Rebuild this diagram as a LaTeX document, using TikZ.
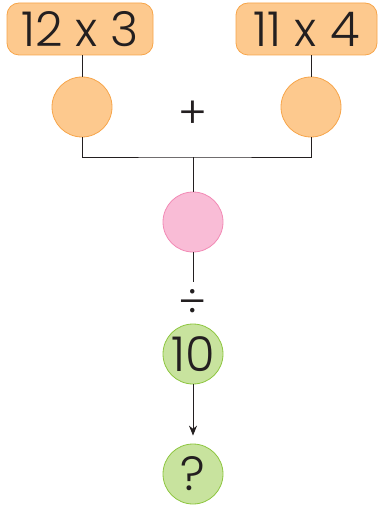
\documentclass[tikz,border=0pt]{standalone}
\usepackage{fontspec}
\setmainfont{Poppins}[UprightFont=* Light]
\usetikzlibrary{arrows.meta}
\definecolor{orangefill}{HTML}{FDC98E}
\definecolor{orangeline}{HTML}{F7A54A}
\definecolor{pinkfill}{HTML}{F9BCD6}
\definecolor{pinkline}{HTML}{F28AB5}
\definecolor{greenfill}{HTML}{C8E39E}
\definecolor{greenline}{HTML}{8DC63F}
\definecolor{ink}{HTML}{231F20}

\begin{document}
\begin{tikzpicture}[
    x=1pt, y=-1pt,
    factor/.style={
        rectangle, rounded corners=12pt, draw=orangeline, fill=orangefill,
        minimum height=52pt, inner sep=0pt, line width=0.8pt,
        font=\fontsize{48}{48}\selectfont, text=ink
    },
    result/.style={
        circle, minimum size=60pt, inner sep=0pt, line width=0.8pt,
        font=\fontsize{48}{48}\selectfont, text=ink
    },
    sign/.style={font=\fontsize{44}{44}\selectfont, text=ink, inner sep=0pt},
    link/.style={draw=ink, line width=0.9pt}
]
\useasboundingbox (0,0) rectangle (378,505);

% Products
\node[factor, minimum width=146pt] (left) at (80,29) {12 x 3};
\node[factor, minimum width=141pt] (right) at (306.5,29) {11 x 4};

% Partial results
\node[result, draw=orangeline, fill=orangefill] (lres) at (82,107) {};
\node[result, draw=orangeline, fill=orangefill] (rres) at (311,107) {};
\node[sign] (plus) at (193,115) {+};

% Sum and quotient
\coordinate (join) at (193,157);
\node[result, draw=pinkline, fill=pinkfill] (sum) at (193,222) {};
\node[sign] (divide) at (193,303) {÷};
\node[result, draw=greenline, fill=greenfill] (ten) at (193,354) {10};
\node[result, draw=greenline, fill=greenfill] (answer) at (193,474) {?};

% Connectors
\draw[link] (left.south -| lres) -- (lres);
\draw[link] (right.south -| rres) -- (rres);
\draw[link] (lres) |- (join) -| (rres);
\draw[link] (join) -- (sum);
\draw[link, shorten >=7pt] (sum) -- (divide);
\draw[link, -{Stealth[length=10pt, width=8pt]}, shorten >=8pt] (ten) -- (answer);

\end{tikzpicture}
\end{document}
